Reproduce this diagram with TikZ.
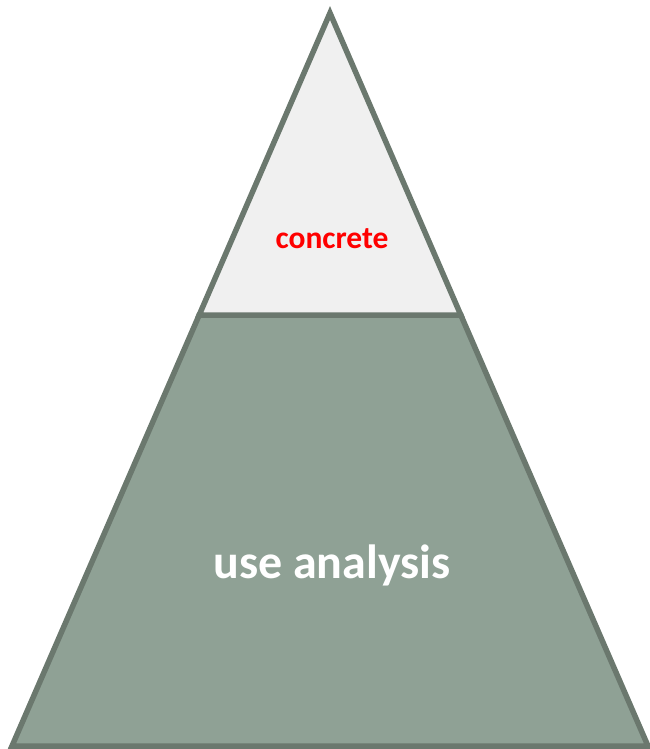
\documentclass[tikz,border=0pt]{standalone}
\usepackage{fontspec}
\setmainfont{Carlito}
\definecolor{edgegray}{HTML}{6B786E}
\definecolor{basegreen}{HTML}{8FA195}
\definecolor{tipgray}{HTML}{F0F0F0}
\definecolor{labelred}{HTML}{FF0000}
\tikzset{
  layer/.style={draw=edgegray, line width=5.5pt, line join=miter},
  tiplabel/.style={font=\bfseries\fontsize{31.5}{36}\selectfont, text=labelred, inner sep=0pt},
  baselabel/.style={font=\bfseries\fontsize{48}{54}\selectfont, text=white, inner sep=0pt}
}
\begin{document}
\begin{tikzpicture}[x=1pt, y=-1pt]
  \useasboundingbox (0,0) rectangle (650,749);
  % pyramid corners and the level cut
  \coordinate (apex) at (330,13);
  \coordinate (bl) at (12,746);
  \coordinate (br) at (648,746);
  \coordinate (cl) at (199.2,315);
  \coordinate (cr) at (460.8,315);
  % lower level
  \path[layer, fill=basegreen] (cl) -- (cr) -- (br) -- (bl) -- cycle;
  % upper level
  \path[layer, fill=tipgray] (apex) -- (cr) -- (cl) -- cycle;
  \node[tiplabel] (tip) at (332,239) {concrete};
  \node[baselabel] (base) at (332,565) {use analysis};
\end{tikzpicture}
\end{document}
